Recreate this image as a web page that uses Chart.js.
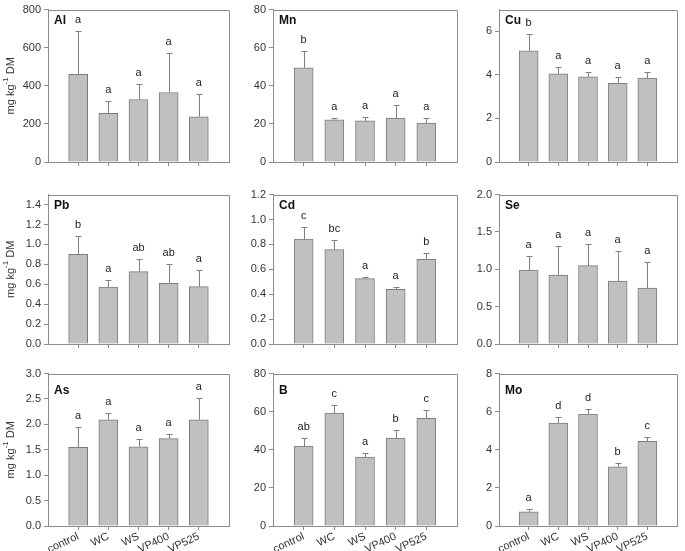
<!DOCTYPE html>
<html>
<head>
<meta charset="utf-8">
<style>
  body { margin: 0; background: #fff; }
  #wrap { position: relative; width: 685px; height: 551px; overflow: hidden; }
  #wrap canvas { position: absolute; }
</style>
</head>
<body>
<div id="wrap"></div>
<script src="https://cdn.jsdelivr.net/npm/chart.js@4.4.1/dist/chart.umd.min.js"></script>
<script>
const treatments = ['control', 'WC', 'WS', 'VP400', 'VP525'];

// mean, upper error bar and significance letters for each element
const al_mean = [460, 255, 328, 365, 237];
const al_err = [227, 65, 82, 205, 121];
const al_letters = ['a', 'a', 'a', 'a', 'a'];

const mn_mean = [49.4, 22.2, 21.6, 23.0, 20.4];
const mn_err = [9.0, 1.0, 1.9, 7.1, 2.5];
const mn_letters = ['b', 'a', 'a', 'a', 'a'];

const cu_mean = [5.11, 4.05, 3.91, 3.61, 3.85];
const cu_err = [0.75, 0.30, 0.21, 0.30, 0.27];
const cu_letters = ['b', 'a', 'a', 'a', 'a'];

const pb_mean = [0.90, 0.572, 0.726, 0.608, 0.576];
const pb_err = [0.186, 0.072, 0.128, 0.197, 0.167];
const pb_letters = ['b', 'a', 'ab', 'ab', 'a'];

const cd_mean = [0.842, 0.758, 0.525, 0.439, 0.680];
const cd_err = [0.099, 0.079, 0.016, 0.016, 0.047];
const cd_letters = ['c', 'bc', 'a', 'a', 'b'];

const se_mean = [0.989, 0.924, 1.050, 0.841, 0.749];
const se_err = [0.187, 0.388, 0.292, 0.401, 0.353];
const se_letters = ['a', 'a', 'a', 'a', 'a'];

const as_mean = [1.55, 2.09, 1.56, 1.72, 2.09];
const as_err = [0.39, 0.13, 0.16, 0.10, 0.43];
const as_letters = ['a', 'a', 'a', 'a', 'a'];

const b_mean = [41.9, 59.3, 36.2, 46.1, 56.5];
const b_err = [4.2, 4.4, 2.1, 4.3, 4.4];
const b_letters = ['ab', 'c', 'a', 'b', 'c'];

const mo_mean = [0.75, 5.40, 5.87, 3.10, 4.45];
const mo_err = [0.12, 0.33, 0.26, 0.21, 0.23];
const mo_letters = ['a', 'd', 'd', 'b', 'c'];

// y axis: max, step, decimals
const panels = [
  { name: 'Al', mean: al_mean, err: al_err, letters: al_letters, max: 800, step: 200, dec: 0 },
  { name: 'Mn', mean: mn_mean, err: mn_err, letters: mn_letters, max: 80, step: 20, dec: 0 },
  { name: 'Cu', mean: cu_mean, err: cu_err, letters: cu_letters, max: 7, step: 2, dec: 0 },
  { name: 'Pb', mean: pb_mean, err: pb_err, letters: pb_letters, max: 1.5, step: 0.2, dec: 1 },
  { name: 'Cd', mean: cd_mean, err: cd_err, letters: cd_letters, max: 1.2, step: 0.2, dec: 1 },
  { name: 'Se', mean: se_mean, err: se_err, letters: se_letters, max: 2, step: 0.5, dec: 1 },
  { name: 'As', mean: as_mean, err: as_err, letters: as_letters, max: 3, step: 0.5, dec: 1 },
  { name: 'B', mean: b_mean, err: b_err, letters: b_letters, max: 80, step: 20, dec: 0 },
  { name: 'Mo', mean: mo_mean, err: mo_err, letters: mo_letters, max: 8, step: 2, dec: 0 }
];

// grid placement of the canvases
const cols = [
  { left: 0, width: 232, axisW: 48, padR: 3 },
  { left: 230, width: 230, axisW: 43, padR: 3 },
  { left: 460, width: 225, axisW: 39, padR: 8 }
];
const rows = [
  { top: 0, height: 185, padT: 8, xH: 23, labelDy: 11 },
  { top: 185, height: 179, padT: 7, xH: 20, labelDy: 11 },
  { top: 364, height: 187, padT: 8, xH: 25, labelDy: 17 }
];

const FONT = '"Liberation Sans", Arial, sans-serif';
const AXIS_COL = '#8c8c8c';

const errorBars = {
  id: 'errorBars',
  afterDatasetsDraw(chart, args, opts) {
    const ctx = chart.ctx;
    const y = chart.scales.y;
    const area = chart.chartArea;
    const meta = chart.getDatasetMeta(0);

    ctx.save();
    // top and right frame lines
    ctx.strokeStyle = AXIS_COL;
    ctx.lineWidth = 1;
    ctx.beginPath();
    ctx.moveTo(Math.round(area.left) + 0.5, Math.round(area.top) + 0.5);
    ctx.lineTo(Math.round(area.right) + 0.5, Math.round(area.top) + 0.5);
    ctx.lineTo(Math.round(area.right) + 0.5, Math.round(area.bottom) + 0.5);
    ctx.stroke();

    // error bars and letters
    ctx.strokeStyle = '#808080';
    ctx.fillStyle = '#222';
    ctx.font = '11px ' + FONT;
    ctx.textAlign = 'center';
    ctx.textBaseline = 'bottom';
    opts.mean.forEach((m, i) => {
      const bar = meta.data[i + 1];
      const x = Math.round(bar.x) + 0.5;
      const yCap = Math.round(y.getPixelForValue(m + opts.err[i])) + 0.5;
      ctx.beginPath();
      ctx.moveTo(x, bar.y);
      ctx.lineTo(x, yCap);
      ctx.moveTo(x - 3, yCap);
      ctx.lineTo(x + 3, yCap);
      ctx.stroke();
      ctx.fillText(opts.letters[i], bar.x, yCap - 6);
    });

    // panel label
    ctx.font = 'bold 12px ' + FONT;
    ctx.fillStyle = '#111';
    ctx.textAlign = 'left';
    ctx.textBaseline = 'middle';
    ctx.fillText(opts.name, area.left + 6, area.top + opts.labelDy);

    // y axis title with superscript
    if (opts.yTitle) {
      const f1 = '11px ' + FONT, f2 = '8px ' + FONT;
      const parts = [['mg kg', f1, 0], ['-1', f2, -5], [' DM', f1, 0]];
      let w = 0;
      parts.forEach(p => { ctx.font = p[1]; w += ctx.measureText(p[0]).width; });
      ctx.translate(11, (area.top + area.bottom) / 2);
      ctx.rotate(-Math.PI / 2);
      ctx.fillStyle = '#333';
      let cx = -w / 2;
      parts.forEach(p => {
        ctx.font = p[1];
        ctx.fillText(p[0], cx, p[2]);
        cx += ctx.measureText(p[0]).width;
      });
    }
    ctx.restore();
  }
};

const wrap = document.getElementById('wrap');

panels.forEach((p, k) => {
  const col = cols[k % 3];
  const row = rows[Math.floor(k / 3)];
  const showX = Math.floor(k / 3) === 2;

  const canvas = document.createElement('canvas');
  canvas.width = col.width;
  canvas.height = row.height;
  canvas.style.left = col.left + 'px';
  canvas.style.top = row.top + 'px';
  wrap.appendChild(canvas);

  new Chart(canvas, {
    type: 'bar',
    data: {
      labels: ['', ...treatments, ''],
      datasets: [{
        data: [null, ...p.mean, null],
        backgroundColor: '#c0c0c0',
        borderColor: '#7c7c7c',
        borderWidth: 1,
        barThickness: 19
      }]
    },
    options: {
      responsive: false,
      animation: false,
      devicePixelRatio: 1,
      layout: { padding: { left: 0, top: row.padT, right: col.padR, bottom: 0 } },
      plugins: {
        legend: { display: false },
        tooltip: { enabled: false },
        errorBars: {
          mean: p.mean, err: p.err, letters: p.letters, name: p.name,
          labelDy: row.labelDy, yTitle: k % 3 === 0
        }
      },
      scales: {
        x: {
          offset: false,
          grid: { offset: false, drawOnChartArea: false, tickLength: 4, color: AXIS_COL },
          border: { color: AXIS_COL },
          ticks: {
            display: showX, autoSkip: false, minRotation: 25, maxRotation: 25,
            padding: 0, color: '#333', font: { family: FONT, size: 11 }
          },
          afterBuildTicks: s => { s.ticks = s.ticks.filter(t => t.value > 0 && t.value < 6); },
          afterFit: s => { s.height = row.xH; }
        },
        y: {
          min: 0,
          max: p.max,
          bounds: 'data',
          grid: { drawOnChartArea: false, tickLength: 4, color: AXIS_COL },
          border: { color: AXIS_COL },
          ticks: {
            stepSize: p.step, includeBounds: false, padding: 3,
            color: '#333', font: { family: FONT, size: 11 },
            callback: v => Number(v).toFixed(p.dec)
          },
          afterBuildTicks: s => {
            s.ticks = s.ticks.filter(t => {
              const r = t.value / p.step;
              return Math.abs(r - Math.round(r)) < 1e-6;
            });
          },
          afterFit: s => { s.width = col.axisW; }
        }
      }
    },
    plugins: [errorBars]
  });
});
</script>
</body>
</html>
